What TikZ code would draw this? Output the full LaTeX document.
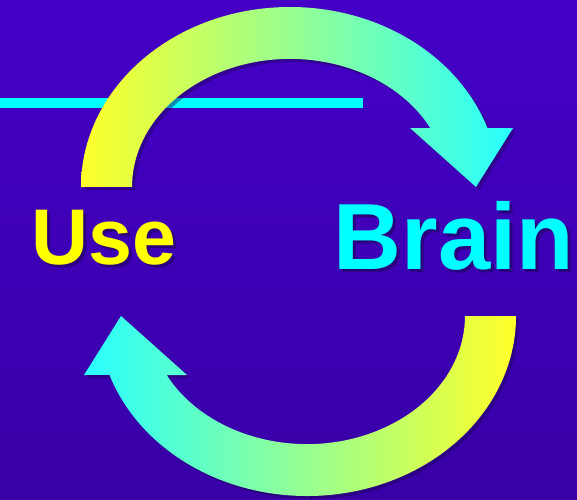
\documentclass[tikz,border=0pt]{standalone}
\usepackage{fontspec}
\setmainfont{Liberation Sans}
\definecolor{bgtop}{RGB}{68,0,198}
\definecolor{bgbot}{RGB}{56,0,166}
\definecolor{yel}{RGB}{255,255,40}
\definecolor{mid}{RGB}{198,255,170}
\definecolor{cya}{RGB}{40,255,255}
\definecolor{shad}{RGB}{30,0,90}
\definecolor{txtyel}{RGB}{255,255,0}
\definecolor{txtcya}{RGB}{0,255,255}
\tikzset{
  shadowfill/.style={fill=shad, fill opacity=0.45},
  bigword/.style={font=\bfseries\fontsize{#1}{#1}\selectfont, inner sep=0pt, anchor=base},
}
\begin{document}
\begin{tikzpicture}[x=1pt,y=1pt]
  \useasboundingbox (0,0) rectangle (577,-499);
  \shade[top color=bgtop, bottom color=bgbot] (0,0) rectangle (577,-499);
  % cyan bar
  \fill[txtcya] (0,-97.5) rectangle (363,-108);
  % arc outlines
  \def\toparc{(81,-187) arc[start angle=180, end angle=19.1, x radius=209pt, y radius=180pt]
     -- (513,-128) -- (476,-187) -- (410,-128) -- (430.3,-128)
     arc[start angle=27.4, end angle=180, x radius=158pt, y radius=128pt] -- cycle}
  \def\botarc{(516,-316) arc[start angle=0, end angle=-160.9, x radius=209pt, y radius=180pt]
     -- (84,-375) -- (121,-316) -- (187,-375) -- (166.7,-375)
     arc[start angle=-152.6, end angle=0, x radius=158pt, y radius=128pt] -- cycle}
  \begin{scope}[shift={(3,-3)}]
    \fill[shadowfill] \toparc;
    \fill[shadowfill] \botarc;
  \end{scope}
  \shade[left color=yel, middle color=mid, right color=cya] \toparc;
  \shade[left color=cya, middle color=mid, right color=yel] \botarc;
  % words
  \node[bigword=79, text=shad, opacity=0.6] (useshadow) at (107,-267) {Use};
  \node[bigword=79, text=txtyel] (use) at (104,-264) {Use};
  \node[bigword=94, text=shad, opacity=0.6] (brainshadow) at (457,-272) {Brain};
  \node[bigword=94, text=txtcya] (brain) at (454,-269) {Brain};
\end{tikzpicture}
\end{document}
